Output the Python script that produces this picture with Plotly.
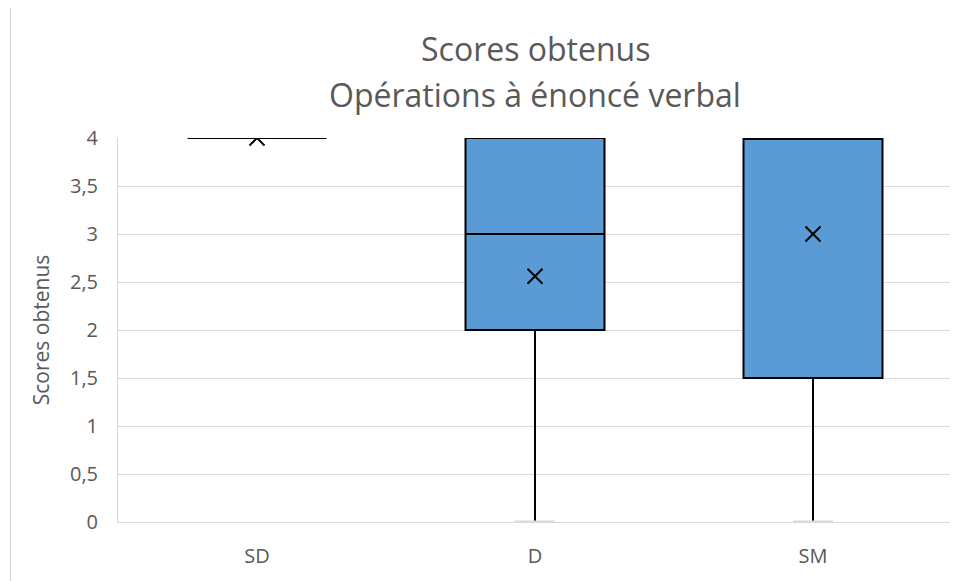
import plotly.graph_objects as go

# ---- data ----
categories = ["SD", "D", "SM"]
q1_vals = [4, 2, 1.5]
median_vals = [4, 3, 4]
q3_vals = [4, 4, 4]
min_vals = [4, 0, 0]
max_vals = [4, 4, 4]
mean_vals = [4, 2.56, 3]
y_ticks = [0, 0.5, 1, 1.5, 2, 2.5, 3, 3.5, 4]

title_line1 = "Scores obtenus"
title_line2 = "Opérations à énoncé verbal"
y_title = "Scores obtenus"

TXT = "#595959"
GRID = "#d9d9d9"
FONT = "Open Sans, sans-serif"

# page has an 8px body margin: figure origin sits at (8, 8) of the window
W, H = 950, 573
PL, PR, PT, PB = 110, 944, 130, 514  # plot area in figure pixels
PW, PHt = PR - PL, PB - PT

fig = go.Figure()
fig.add_trace(go.Box(
    x=categories,
    q1=q1_vals, median=median_vals, q3=q3_vals,
    lowerfence=min_vals, upperfence=max_vals,
    fillcolor="#5B9BD5",
    line=dict(color="#000000", width=2),
    width=0.5,
    whiskerwidth=0,
    boxpoints=False,
    hoverinfo="skip",
    showlegend=False,
))
fig.add_trace(go.Scatter(
    x=categories, y=mean_vals, mode="markers",
    marker=dict(symbol="x-thin", size=15, line=dict(color="#000000", width=2)),
    showlegend=False, hoverinfo="skip",
))

# faint whisker caps (as in the reference) at the minimum when it lies below Q1
shapes = []
for i, (mn, q1) in enumerate(zip(min_vals, q1_vals)):
    if mn < q1:
        shapes.append(dict(type="line", xref="x", yref="y",
                           x0=i - 0.072, x1=i + 0.072, y0=mn, y1=mn,
                           line=dict(color=GRID, width=3), layer="above"))
shapes.append(dict(type="rect", xref="paper", yref="paper",
                   x0=(2.5 - PL) / PW, x1=(980 - PL) / PW,
                   y0=(PB - 600) / PHt, y1=(PB + 0.5) / PHt,
                   line=dict(color=GRID, width=1), layer="below"))

fig.update_layout(
    width=W, height=H,
    margin=dict(l=PL, r=W - PR, t=PT, b=H - PB),
    paper_bgcolor="white", plot_bgcolor="white",
    separators=", ",
    font=dict(family=FONT, color=TXT, size=20),
    annotations=[
        dict(text=title_line1, x=0.5, xref="paper", y=(PB - 40) / PHt, yref="paper",
             xanchor="center", yanchor="middle", showarrow=False,
             font=dict(size=32, color=TXT, family=FONT)),
        dict(text=title_line2, x=0.5, xref="paper", y=(PB - 87) / PHt, yref="paper",
             xanchor="center", yanchor="middle", showarrow=False,
             font=dict(size=32, color=TXT, family=FONT)),
    ],
    shapes=shapes,
)
fig.update_xaxes(
    type="category", range=[-0.5, 2.5],
    showgrid=False, showline=True, linecolor=GRID, linewidth=1,
    ticks="", ticklabelstandoff=16,
    tickfont=dict(size=20, color=TXT),
)
fig.update_yaxes(
    range=[0, 4], tickvals=y_ticks,
    showgrid=True, gridcolor=GRID, gridwidth=1,
    zeroline=False,
    showline=True, linecolor=GRID, linewidth=1,
    ticks="", ticklabelstandoff=15,
    tickfont=dict(size=20, color=TXT),
    title=dict(text=y_title, font=dict(size=21, color=TXT), standoff=14),
)

fig.write_html("out.html")
